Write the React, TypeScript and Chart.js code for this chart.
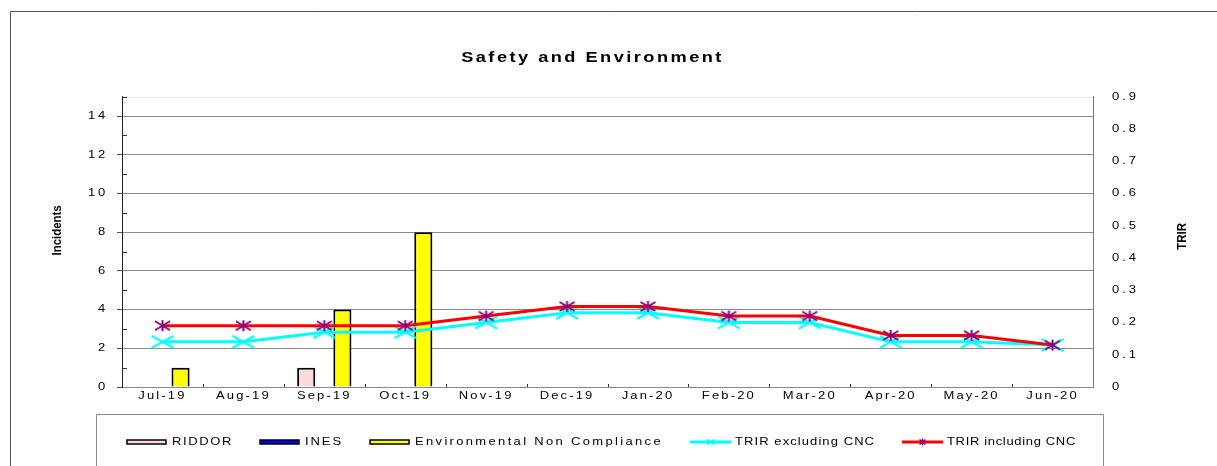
import React, { useEffect, useRef } from 'react';
import { Chart, registerables } from 'chart.js';

Chart.register(...registerables);

// ---------- data ----------
const categories = ['Jul-19', 'Aug-19', 'Sep-19', 'Oct-19', 'Nov-19', 'Dec-19', 'Jan-20', 'Feb-20', 'Mar-20', 'Apr-20', 'May-20', 'Jun-20'];
const riddor = [0, 0, 1, 0, 0, 0, 0, 0, 0, 0, 0, 0];
const ines = [0, 0, 0, 0, 0, 0, 0, 0, 0, 0, 0, 0];
const envNonCompliance = [1, 0, 4, 8, 0, 0, 0, 0, 0, 0, 0, 0];
const trirExcludingCnc = [0.14, 0.14, 0.17, 0.17, 0.2, 0.23, 0.23, 0.2, 0.2, 0.14, 0.14, 0.13];
const trirIncludingCnc = [0.19, 0.19, 0.19, 0.19, 0.22, 0.25, 0.25, 0.22, 0.22, 0.16, 0.16, 0.13];
const seriesLabels = ['RIDDOR', 'INES', 'Environmental Non Compliance', 'TRIR excluding CNC', 'TRIR including CNC'];
const chartTitle = 'Safety and Environment';
const leftAxisTitle = 'Incidents';
const rightAxisTitle = 'TRIR';
const incidentsMax = 15;
const incidentsStep = 2;
const trirMax = 0.9;
const trirStep = 0.1;

// ---------- style ----------
const FONT = "'Liberation Sans', Arial, Helvetica, sans-serif";
const LEGEND_X = [127, 260, 370, 690, 902];
const LEGEND_RIGHT = 1103;
const SX = 1.3; // horizontal text stretch

const protoFill = CanvasRenderingContext2D.prototype.fillText;
const protoMeasure = CanvasRenderingContext2D.prototype.measureText;

function installStretch(ctx: any) {
  if (ctx.__stretchInstalled) return;
  ctx.__sx = 1;
  ctx.fillText = function (text: string, x: number, y: number, maxWidth?: number) {
    const sx = ctx.__sx || 1;
    if (sx === 1) {
      return maxWidth === undefined ? protoFill.call(ctx, text, x, y) : protoFill.call(ctx, text, x, y, maxWidth);
    }
    ctx.save();
    ctx.translate(x, y);
    ctx.scale(sx, 1);
    if (maxWidth === undefined) protoFill.call(ctx, text, 0, 0);
    else protoFill.call(ctx, text, 0, 0, maxWidth / sx);
    ctx.restore();
  };
  ctx.measureText = function (text: string) {
    const m = protoMeasure.call(ctx, text);
    const sx = ctx.__sx || 1;
    if (sx === 1) return m;
    return {
      width: m.width * sx,
      actualBoundingBoxAscent: m.actualBoundingBoxAscent,
      actualBoundingBoxDescent: m.actualBoundingBoxDescent,
      actualBoundingBoxLeft: m.actualBoundingBoxLeft * sx,
      actualBoundingBoxRight: m.actualBoundingBoxRight * sx,
      fontBoundingBoxAscent: (m as any).fontBoundingBoxAscent,
      fontBoundingBoxDescent: (m as any).fontBoundingBoxDescent,
    };
  };
  ctx.__stretchInstalled = true;
}

function strokeMarker(ctx: CanvasRenderingContext2D, kind: string, cx: number, cy: number, w: number, h: number, color: string, lw: number) {
  ctx.save();
  ctx.strokeStyle = color;
  ctx.lineWidth = lw;
  ctx.beginPath();
  const hw = w / 2, hh = h / 2;
  ctx.moveTo(cx - hw, cy - hh); ctx.lineTo(cx + hw, cy + hh);
  ctx.moveTo(cx - hw, cy + hh); ctx.lineTo(cx + hw, cy - hh);
  if (kind === 'star') { ctx.moveTo(cx, cy - hh - 1); ctx.lineTo(cx, cy + hh + 1); }
  ctx.stroke();
  ctx.restore();
}

function makeMarker(kind: string, w: number, h: number, color: string, lw: number) {
  const c = document.createElement('canvas');
  c.width = w + 2 * lw; c.height = h + 2 * lw + 2;
  strokeMarker(c.getContext('2d')!, kind, c.width / 2, c.height / 2, w, h, color, lw);
  return c;
}

function patchText(target: any, method: string, spacing: string, sx: number) {
  if (!target || target['__p_' + method]) return;
  const orig = target[method];
  target[method] = function (...args: any[]) {
    const ctx = this.ctx;
    const prevS = ctx.letterSpacing;
    const prevX = ctx.__sx;
    ctx.letterSpacing = spacing;
    ctx.__sx = sx;
    try { return orig.apply(this, args); } finally { ctx.letterSpacing = prevS; ctx.__sx = prevX; }
  };
  target['__p_' + method] = true;
}

function patchAxisTitle(scale: any, side: 'left' | 'right') {
  if (!scale || scale.__titlePatched) return;
  scale.drawTitle = function () {
    const t = this.options.title;
    if (!t || !t.display) return;
    const ctx = this.ctx;
    const mid = (this.top + this.bottom) / 2;
    const x = side === 'left' ? this.left + 57 : this.right - 3;
    const y = side === 'left' ? mid - 11.5 : mid - 5.5;
    const prevX = ctx.__sx;
    ctx.__sx = 1;
    ctx.save();
    ctx.letterSpacing = '0px';
    ctx.font = `bold 13px ${FONT}`;
    ctx.fillStyle = '#000';
    ctx.textAlign = 'center';
    ctx.textBaseline = 'middle';
    ctx.translate(x, y);
    ctx.rotate(-Math.PI / 2);
    ctx.scale(0.88, 1);
    ctx.fillText(t.text, 0, 0);
    ctx.restore();
    ctx.__sx = prevX;
  };
  scale.__titlePatched = true;
}

const decorPlugin = {
  id: 'decor',
  beforeUpdate(chart: any) {
    installStretch(chart.ctx);
    chart.ctx.letterSpacing = '1.7px';
    chart.ctx.__sx = SX;
  },
  beforeDraw(chart: any) {
    const ctx = chart.ctx as any;
    ctx.save();
    ctx.fillStyle = '#fff';
    ctx.fillRect(0, 0, chart.width, chart.height);
    ctx.strokeStyle = '#555';
    ctx.lineWidth = 1;
    ctx.beginPath();
    ctx.moveTo(10.5, chart.height); ctx.lineTo(10.5, 11.5); ctx.lineTo(chart.width, 11.5);
    ctx.stroke();
    ctx.restore();
    patchText(chart.scales.y, 'drawLabels', '2.1px', SX);
    patchText(chart.scales.y1, 'drawLabels', '2.3px', SX);
    patchText(chart.scales.x, 'drawLabels', '1.65px', SX);
    patchText(chart.titleBlock, 'draw', '1.9px', SX);
    patchAxisTitle(chart.scales.y, 'left');
    patchAxisTitle(chart.scales.y1, 'right');
  },
  afterDraw(chart: any) {
    const ctx = chart.ctx as any;
    const { left, right, top, bottom } = chart.chartArea;
    const ys = chart.scales.y;
    const xs = chart.scales.x;
    ctx.save();
    ctx.letterSpacing = '0px';
    // faint top line
    ctx.strokeStyle = '#e6e6e6';
    ctx.lineWidth = 1;
    ctx.beginPath();
    ctx.moveTo(left, Math.round(top) + 0.5); ctx.lineTo(right, Math.round(top) + 0.5);
    ctx.stroke();
    // minor ticks on left axis
    ctx.strokeStyle = '#333';
    ctx.beginPath();
    for (let v = 1; v <= incidentsMax; v += 2) {
      const y = Math.round(ys.getPixelForValue(v)) + 0.5;
      ctx.moveTo(left, y); ctx.lineTo(left + 5, y);
    }
    // category separators on x axis
    for (let i = 1; i < categories.length; i++) {
      const x = Math.round(xs.getPixelForValue(i - 0.5)) + 0.5;
      ctx.moveTo(x, bottom); ctx.lineTo(x, bottom - 3);
    }
    ctx.stroke();

    // legend
    const lx0 = 96.5, ly0 = 414.5;
    ctx.strokeStyle = '#888';
    ctx.lineWidth = 1;
    ctx.beginPath();
    ctx.moveTo(lx0, chart.height + 2); ctx.lineTo(lx0, ly0); ctx.lineTo(LEGEND_RIGHT + 0.5, ly0); ctx.lineTo(LEGEND_RIGHT + 0.5, chart.height + 2);
    ctx.stroke();
    const cy = 442;
    chart.data.datasets.forEach((ds: any, i: number) => {
      const x = LEGEND_X[i];
      if (ds.type === 'line') {
        ctx.strokeStyle = ds.borderColor;
        ctx.lineWidth = 3;
        ctx.beginPath();
        ctx.moveTo(x, cy); ctx.lineTo(x + 41, cy);
        ctx.stroke();
        if (ds.legendMarker === 'x') strokeMarker(ctx, 'x', x + 20.5, cy, 8, 5, ds.legendMarkerColor, 1.5);
        else strokeMarker(ctx, 'star', x + 20.5, cy, 6, 5, ds.legendMarkerColor, 1.5);
      } else {
        ctx.fillStyle = ds.backgroundColor;
        ctx.fillRect(x, cy - 2, 39, 4);
        ctx.strokeStyle = '#000';
        ctx.lineWidth = 1.5;
        ctx.strokeRect(x, cy - 2, 39, 4);
      }
      // fit text between this marker and the next legend item
      const textX = x + 45;
      const nextX = i + 1 < LEGEND_X.length ? LEGEND_X[i + 1] : LEGEND_RIGHT;
      const target = nextX - 27 - textX;
      ctx.font = `10px ${FONT}`;
      ctx.letterSpacing = '0px';
      const natural = protoMeasure.call(ctx, ds.label).width;
      const n = Math.max(1, ds.label.length);
      const sp = Math.max(0, (target / SX - natural) / n);
      ctx.fillStyle = '#000';
      ctx.letterSpacing = `${sp.toFixed(2)}px`;
      ctx.__sx = SX;
      ctx.textAlign = 'left';
      ctx.textBaseline = 'middle';
      ctx.fillText(ds.label, textX, cy);
      ctx.letterSpacing = '0px';
    });
    ctx.restore();
  },
};

export default function App() {
  const ref = useRef<HTMLCanvasElement>(null);

  useEffect(() => {
    const canvas = ref.current!;
    const xMarker = makeMarker('x', 22, 12, '#00FFFF', 2);
    const starMarker = makeMarker('star', 15, 9, '#800080', 2);

    const chart = new Chart(canvas, {
      type: 'bar',
      data: {
        labels: categories,
        datasets: [
          { type: 'bar', label: seriesLabels[0], data: riddor, backgroundColor: '#FFD9D9', borderColor: '#000', borderWidth: 2, yAxisID: 'y', order: 3 },
          { type: 'bar', label: seriesLabels[1], data: ines, backgroundColor: '#0000FF', borderColor: '#000', borderWidth: 2, yAxisID: 'y', order: 3 },
          { type: 'bar', label: seriesLabels[2], data: envNonCompliance, backgroundColor: '#FFFF00', borderColor: '#000', borderWidth: 2, yAxisID: 'y', order: 3 },
          {
            type: 'line', label: seriesLabels[3], data: trirExcludingCnc, borderColor: '#00FFFF', backgroundColor: '#00FFFF',
            borderWidth: 3, tension: 0, pointStyle: xMarker as any, pointRadius: 8, yAxisID: 'y1', order: 2,
            legendMarker: 'x', legendMarkerColor: '#00FFFF',
          } as any,
          {
            type: 'line', label: seriesLabels[4], data: trirIncludingCnc, borderColor: '#FF0000', backgroundColor: '#FF0000',
            borderWidth: 3, tension: 0, pointStyle: starMarker as any, pointRadius: 6, yAxisID: 'y1', order: 1,
            legendMarker: 'star', legendMarkerColor: '#800080',
          } as any,
        ],
      },
      options: {
        responsive: false,
        animation: false,
        devicePixelRatio: 1,
        layout: { padding: { left: 0, right: 32, top: 0, bottom: 64 } },
        datasets: { bar: { categoryPercentage: 0.671, barPercentage: 1.0 } },
        plugins: {
          legend: { display: false },
          tooltip: { enabled: false },
          title: {
            display: true,
            text: chartTitle,
            color: '#000',
            font: { family: FONT, size: 14, weight: 'bold', lineHeight: 1.2 },
            padding: { top: 50, bottom: 30 },
          },
        },
        scales: {
          x: {
            type: 'category',
            offset: true,
            grid: { display: false, drawTicks: false },
            border: { display: true, color: '#888', width: 1 },
            ticks: { color: '#000', font: { family: FONT, size: 10 }, padding: 3, maxRotation: 0, autoSkip: false },
            afterFit: (s: any) => { s.height = 15; },
          },
          y: {
            type: 'linear',
            position: 'left',
            min: 0,
            max: incidentsMax,
            ticks: { stepSize: incidentsStep, color: '#000', font: { family: FONT, size: 10 }, padding: 9 },
            afterBuildTicks: (s: any) => { s.ticks = s.ticks.filter((t: any) => t.value % incidentsStep === 0); },
            grid: { color: '#8a8a8a', tickColor: '#555', tickLength: 5, drawTicks: true },
            border: { display: true, color: '#222', width: 1 },
            title: { display: true, text: leftAxisTitle, color: '#000', font: { family: FONT, size: 13, weight: 'bold' } },
            afterFit: (s: any) => { s.width = 122; },
          },
          y1: {
            type: 'linear',
            position: 'right',
            min: 0,
            max: trirMax,
            ticks: { stepSize: trirStep, color: '#000', font: { family: FONT, size: 10 }, padding: 19 },
            grid: { drawOnChartArea: false, drawTicks: false },
            border: { display: true, color: '#777', width: 1 },
            title: { display: true, text: rightAxisTitle, color: '#000', font: { family: FONT, size: 13, weight: 'bold' } },
            afterFit: (s: any) => { s.width = 92; },
          },
        },
      } as any,
      plugins: [decorPlugin as any],
    });
    return () => chart.destroy();
  }, []);

  return (
    <div style={{ position: 'absolute', left: 0, top: 0, width: 1217, height: 466, background: '#fff' }}>
      <canvas ref={ref} width={1217} height={466} style={{ display: 'block', width: 1217, height: 466 }} />
    </div>
  );
}
